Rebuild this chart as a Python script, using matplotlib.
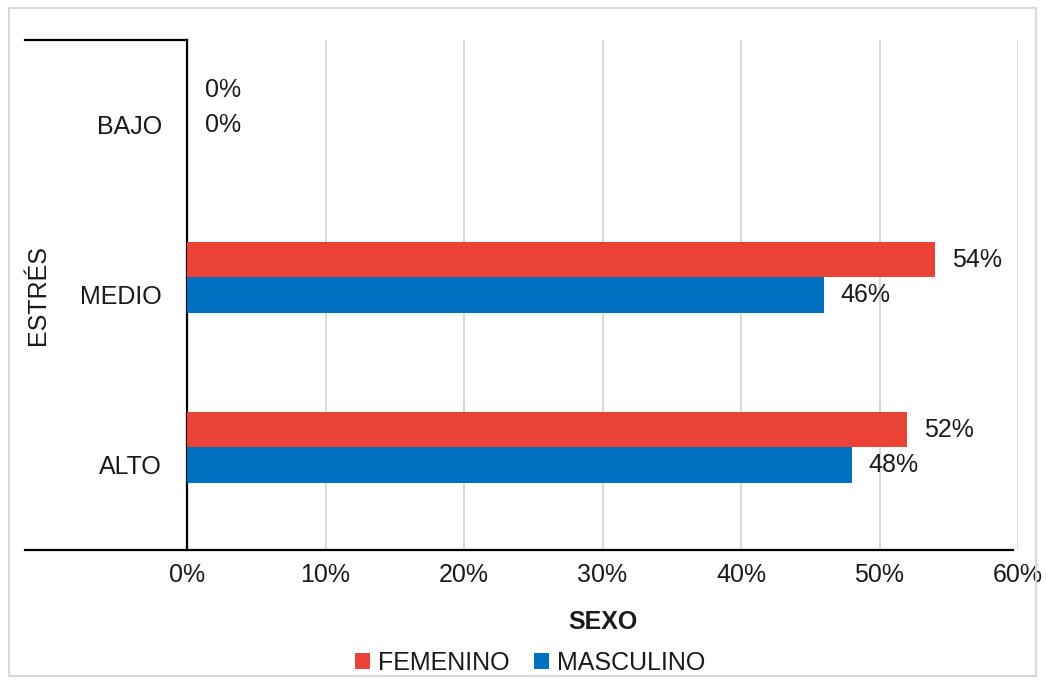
import matplotlib
matplotlib.use("Agg")
import matplotlib.pyplot as plt
from matplotlib.lines import Line2D
from matplotlib.patches import Rectangle
import numpy as np

categories = ["BAJO", "MEDIO", "ALTO"]
femenino = [0, 54, 52]
masculino = [0, 46, 48]
xticks = [0, 10, 20, 30, 40, 50, 60]
xtick_labels = ["0%", "10%", "20%", "30%", "40%", "50%", "60%"]

RED = "#EA4335"
BLUE = "#0070C0"
FS = 18
TXT = "#1A1A1A"

plt.rcParams['font.family'] = ['Liberation Sans', 'DejaVu Sans']

fig = plt.figure(figsize=(10.46, 6.84), dpi=100)
ax = fig.add_axes([187/1046, 1-550/684, (1018-187)/1046, (550-40)/684])

y = np.arange(len(categories))
h = 0.206
bf = ax.barh(y - h, femenino, height=h, color=RED, label="FEMENINO", zorder=3)
bm = ax.barh(y, masculino, height=h, color=BLUE, label="MASCULINO", zorder=3)

for vals, yy in ((femenino, y - h), (masculino, y)):
    for v, yc in zip(vals, yy):
        ax.annotate(f"{v}%", (v, yc), xytext=(12 if v else 13, 0), textcoords="offset points",
                    va="center", ha="left", fontsize=FS, color=TXT)

ax.set_ylim(len(categories) - 0.5, -0.5)
ax.set_xlim(0, 60)
ax.set_yticks(y)
ax.set_yticklabels(categories, fontsize=FS, color=TXT)
ax.set_xticks(xticks)
ax.set_xticklabels(xtick_labels, fontsize=FS, color=TXT)
ax.tick_params(axis="y", length=0, pad=18)
ax.tick_params(axis="x", length=0, pad=9)
ax.grid(axis="x", color="#D9D9D9", linewidth=1.5, zorder=0)
for s in ("top", "right", "bottom"):
    ax.spines[s].set_visible(False)
ax.spines["left"].set_linewidth(1.6)
ax.spines["left"].set_color("black")

ax.set_xlabel("SEXO", fontsize=FS, fontweight="bold", labelpad=17, color=TXT)

fig.text(38/1046, 1-295/684, "ESTRÉS", rotation=90, ha="center", va="center",
         fontsize=FS, color=TXT)

# extra table-like lines
fig.add_artist(Line2D([25/1046, 187/1046], [1-40/684, 1-40/684], color="black", lw=1.6))
fig.add_artist(Line2D([25/1046, 1013/1046], [1-550/684, 1-550/684], color="black", lw=1.6))

# outer frame
fig.add_artist(Rectangle((9/1046, 1-676/684), (1036-9)/1046, (676-8)/684,
                         transform=fig.transFigure, fill=False, edgecolor="#D9D9D9", lw=1.5))

leg = fig.legend(handles=[bf, bm], loc="center", bbox_to_anchor=(530/1046, 1-663/684),
                 ncol=2, frameon=False, fontsize=FS, handlelength=0.6, handleheight=0.6,
                 handletextpad=0.3, columnspacing=1.0)
for t in leg.get_texts():
    t.set_color(TXT)

fig.savefig("out.png", dpi=100)
